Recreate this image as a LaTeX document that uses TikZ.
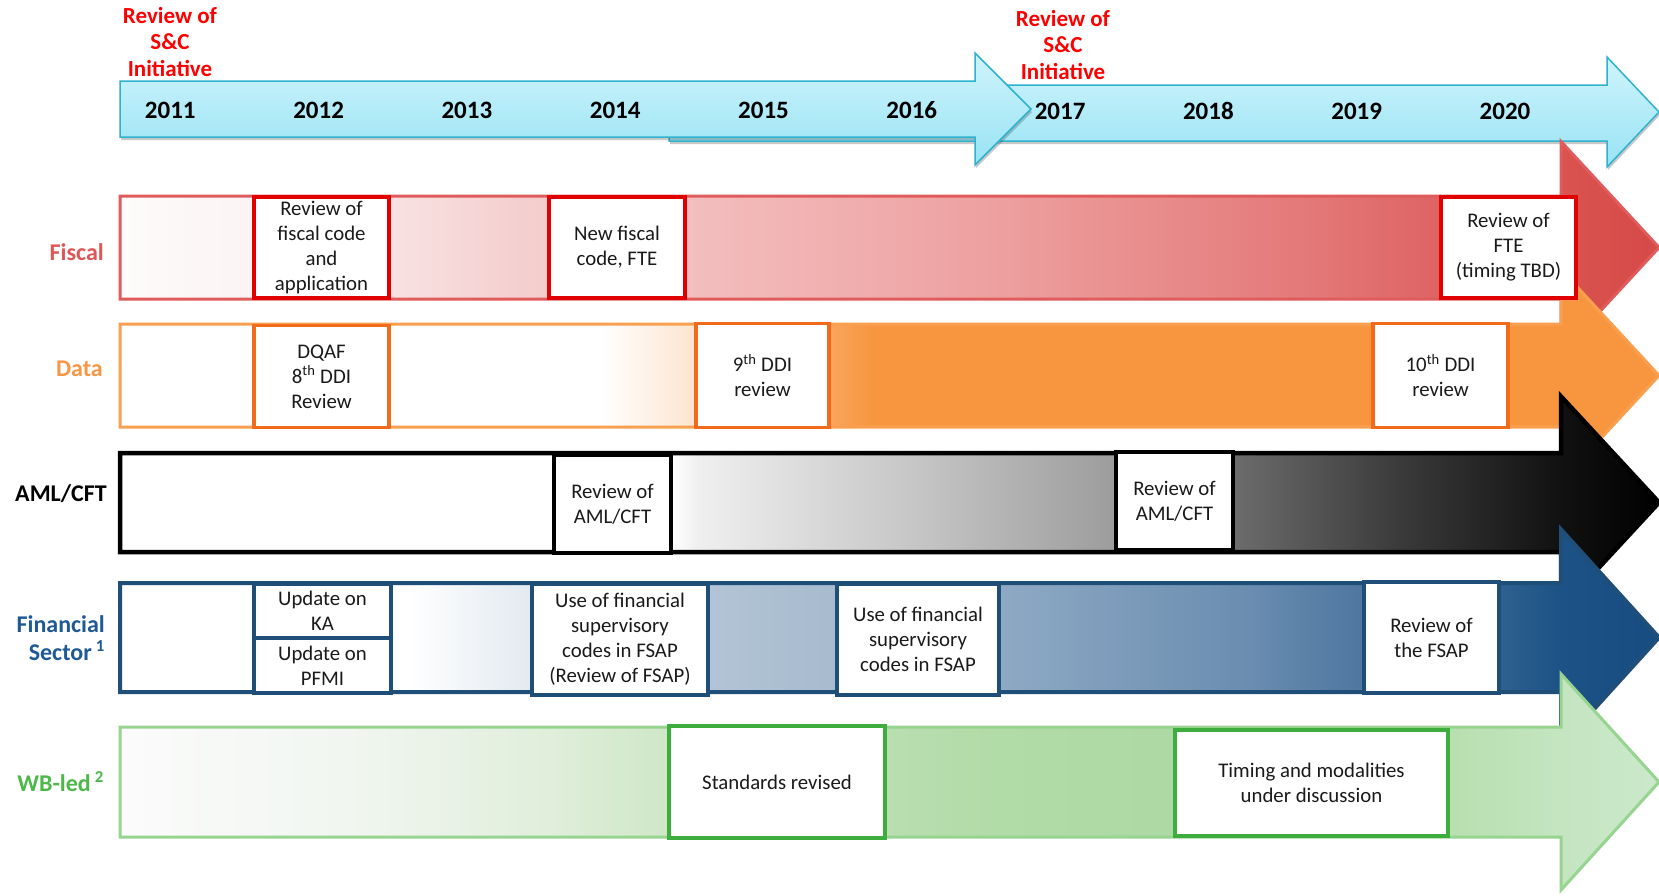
\documentclass[tikz,border=0pt]{standalone}
\usepackage{fontspec}
\setmainfont{Carlito}
\usetikzlibrary{shadows}
% colours
\definecolor{tlTop}{HTML}{CFF4FC}
\definecolor{tlBot}{HTML}{98E3F4}
\definecolor{tlBorder}{HTML}{2EB2CE}
\definecolor{labRed}{HTML}{E05555}
\definecolor{labOrange}{HTML}{F79646}
\definecolor{labBlue}{HTML}{1F5A96}
\definecolor{labGreen}{HTML}{4CB848}
\definecolor{topRed}{HTML}{FF0000}
\definecolor{boxRed}{HTML}{E00000}
\definecolor{boxOrange}{HTML}{F26B1D}
\definecolor{boxBlue}{HTML}{1F4E79}
\definecolor{boxGreen}{HTML}{3DAE3D}
\definecolor{fBorder}{HTML}{E05B5B}
\definecolor{dBorder}{HTML}{F9A050}
\definecolor{nBorder}{HTML}{1F4E79}
\definecolor{wBorder}{HTML}{96D490}
\definecolor{txt}{HTML}{1A1A1A}
% fiscal stops
\definecolor{fA}{HTML}{FDFBFB}
\definecolor{fB}{HTML}{FCF4F4}
\definecolor{fC}{HTML}{F8E0E0}
\definecolor{fD}{HTML}{F5CFCF}
\definecolor{fE}{HTML}{F3BDBD}
\definecolor{fF}{HTML}{ED9F9F}
\definecolor{fG}{HTML}{E47A7A}
\definecolor{fH}{HTML}{DD6262}
\definecolor{fI}{HTML}{D9534F}
\definecolor{fJ}{HTML}{D64A48}
% data stops
\definecolor{dC}{HTML}{FDE6D2}
\definecolor{dD}{HTML}{FBC493}
\definecolor{dE}{HTML}{F9A55C}
\definecolor{dF}{HTML}{F89640}
% aml stops
\definecolor{aC}{HTML}{EFEFEF}
\definecolor{aD}{HTML}{C9C9C9}
\definecolor{aE}{HTML}{9C9C9C}
\definecolor{aF}{HTML}{6C6C6C}
\definecolor{aG}{HTML}{3A3A3A}
\definecolor{aH}{HTML}{111111}
% financial stops
\definecolor{nC}{HTML}{E2E9F0}
\definecolor{nD}{HTML}{C3D1DE}
\definecolor{nE}{HTML}{B2C4D5}
\definecolor{nF}{HTML}{A7BBCF}
\definecolor{nG}{HTML}{8EA9C4}
\definecolor{nH}{HTML}{6A8DB0}
\definecolor{nI}{HTML}{4E76A0}
\definecolor{nJ}{HTML}{2F6190}
\definecolor{nK}{HTML}{1C5286}
\definecolor{nL}{HTML}{164C80}
% wb stops
\definecolor{wA}{HTML}{FBFBFB}
\definecolor{wB}{HTML}{F1F6F0}
\definecolor{wC}{HTML}{E0EEDB}
\definecolor{wD}{HTML}{CFE7C7}
\definecolor{wE}{HTML}{B9DEB0}
\definecolor{wF}{HTML}{B1DBA7}
\definecolor{wG}{HTML}{ADD9A4}
\definecolor{wH}{HTML}{B8DFB0}
\definecolor{wI}{HTML}{C4E5C0}
\definecolor{wJ}{HTML}{CBE9CB}
% shadings (25bp = left end x=120, 75bp = right end x=1659)
\pgfdeclarehorizontalshading{fiscalsh}{100bp}{color(0bp)=(fA); color(25bp)=(fA); color(29.2bp)=(fB); color(34.1bp)=(fC); color(38bp)=(fD); color(43.8bp)=(fE); color(53.6bp)=(fF); color(63.3bp)=(fG); color(68.2bp)=(fH); color(71.8bp)=(fI); color(75bp)=(fJ); color(100bp)=(fJ)}
\pgfdeclarehorizontalshading{datash}{100bp}{color(0bp)=(white); color(25bp)=(white); color(40.6bp)=(white); color(43.5bp)=(dC); color(45.8bp)=(dD); color(48.1bp)=(dE); color(49.4bp)=(dF); color(75bp)=(dF); color(100bp)=(dF)}
\pgfdeclarehorizontalshading{amlsh}{100bp}{color(0bp)=(white); color(25bp)=(white); color(42.9bp)=(white); color(43.8bp)=(aC); color(50.3bp)=(aD); color(57.4bp)=(aE); color(61.2bp)=(aF); color(66.6bp)=(aG); color(71.8bp)=(aH); color(75bp)=(black); color(100bp)=(black)}
\pgfdeclarehorizontalshading{finsh}{100bp}{color(0bp)=(white); color(25bp)=(white); color(34.4bp)=(white); color(38.4bp)=(nC); color(41.3bp)=(nD); color(44.1bp)=(nE); color(48.3bp)=(nF); color(53.6bp)=(nG); color(61.7bp)=(nH); color(65.4bp)=(nI); color(69.8bp)=(nJ); color(71.8bp)=(nK); color(75bp)=(nL); color(100bp)=(nL)}
\pgfdeclarehorizontalshading{wbsh}{100bp}{color(0bp)=(wA); color(25bp)=(wA); color(32.5bp)=(wB); color(39bp)=(wC); color(42.8bp)=(wD); color(49.9bp)=(wE); color(53.6bp)=(wF); color(59.3bp)=(wG); color(68.2bp)=(wH); color(71.8bp)=(wI); color(75bp)=(wJ); color(100bp)=(wJ)}
\begin{document}
\begin{tikzpicture}[x=1pt,y=-1pt,
  tlarrow/.style={draw=tlBorder, line width=1.5pt, top color=tlTop, bottom color=tlBot,
    drop shadow={shadow xshift=1pt, shadow yshift=-3pt, opacity=.3, fill=black!70}},
  yr/.style={font=\bfseries\fontsize{25}{28}\selectfont, inner sep=0pt, text=black},
  toplab/.style={font=\bfseries\fontsize{23}{26.5}\selectfont, text=topRed, align=center, inner sep=0pt},
  rowlab/.style={anchor=east, font=\bfseries\fontsize{24}{28}\selectfont, align=right, inner sep=0pt},
  evbox/.style={draw=#1, fill=white, line width=3.5pt, inner sep=0pt, align=center,
    font=\fontsize{20.8}{25}\selectfont, text=txt}]
\useasboundingbox (0,0) rectangle (1659,895);
\fill[white] (0,0) rectangle (1659,895);

% ---------- timeline ----------
\path[tlarrow] (669,85) -- (1607,85) -- (1607,57) -- (1659,112) -- (1607,167) -- (1607,141) -- (669,141) -- cycle;
\path[tlarrow] (120,81) -- (975,81) -- (975,53) -- (1031,109) -- (975,165) -- (975,137) -- (120,137) -- cycle;

\node[yr] (y2011) at (170.3,110) {2011};
\node[yr] (y2012) at (318.6,110) {2012};
\node[yr] (y2013) at (466.9,110) {2013};
\node[yr] (y2014) at (615.2,110) {2014};
\node[yr] (y2015) at (763.5,110) {2015};
\node[yr] (y2016) at (911.8,110) {2016};
\node[yr] (y2017) at (1060.1,111) {2017};
\node[yr] (y2018) at (1208.4,111) {2018};
\node[yr] (y2019) at (1356.7,111) {2019};
\node[yr] (y2020) at (1505,111) {2020};

\node[toplab] (sc1) at (170,42) {Review of\\S\&C\\Initiative};
\node[toplab] (sc2) at (1063,45) {Review of\\S\&C\\Initiative};

% ---------- row arrows ----------
\path[shade, shading=fiscalsh, draw=fBorder, line width=3pt]
  (120,196) -- (1561,196) -- (1561,141.5) -- (1659,247.5) -- (1561,353.5) -- (1561,299) -- (120,299) -- cycle;
\path[shade, shading=datash, draw=dBorder, line width=3pt]
  (120,324) -- (1561,324) -- (1561,269.5) -- (1659,375.5) -- (1561,481.5) -- (1561,427) -- (120,427) -- cycle;
\path[shade, shading=amlsh, draw=black, line width=4.5pt]
  (120,453) -- (1561,453) -- (1561,396.5) -- (1659,502.5) -- (1561,608.5) -- (1561,552) -- (120,552) -- cycle;
\path[shade, shading=finsh, draw=nBorder, line width=4pt]
  (120,583) -- (1561,583) -- (1561,529.5) -- (1659,637.5) -- (1561,745.5) -- (1561,692) -- (120,692) -- cycle;
\path[shade, shading=wbsh, draw=wBorder, line width=3pt]
  (120,727) -- (1561,727) -- (1561,674) -- (1659,782) -- (1561,890) -- (1561,837) -- (120,837) -- cycle;

% ---------- row labels ----------
\node[rowlab, text=labRed] (lfis) at (104,252) {Fiscal};
\node[rowlab, text=labOrange] (ldat) at (103,369) {Data};
\node[rowlab, text=black] (laml) at (107,494) {AML/CFT};
\node[rowlab, text=labBlue] (lfin) at (105,638) {Financial\\Sector\,\textsuperscript{1}};
\node[rowlab, text=labGreen] (lwb) at (104,782) {WB-led\,\textsuperscript{2}};

% ---------- fiscal events ----------
\node[evbox=boxRed, minimum width=135pt, minimum height=101pt] (f1) at (321.5,247.5) {Review of\\fiscal code\\and\\application};
\node[evbox=boxRed, minimum width=136pt, minimum height=101pt] (f2) at (617,247.5) {New fiscal\\code, FTE};
\node[evbox=boxRed, minimum width=135pt, minimum height=101pt] (f3) at (1508.5,247.5) {Review of\\FTE\\(timing TBD)};

% ---------- data events ----------
\node[evbox=boxOrange, minimum width=135pt, minimum height=102pt] (d1) at (321.5,376.5) {DQAF\\8\textsuperscript{th} DDI\\Review};
\node[evbox=boxOrange, minimum width=133pt, minimum height=104pt] (d2) at (762.5,375.5) {9\textsuperscript{th} DDI\\review};
\node[evbox=boxOrange, minimum width=135pt, minimum height=104pt] (d3) at (1440.5,375.5) {10\textsuperscript{th} DDI\\review};

% ---------- AML events ----------
\node[evbox=black, line width=4pt, minimum width=117pt, minimum height=98pt] (a1) at (612.5,504) {Review of\\AML/CFT};
\node[evbox=black, line width=4pt, minimum width=117pt, minimum height=98pt] (a2) at (1174.5,501) {Review of\\AML/CFT};

% ---------- financial events ----------
\node[evbox=boxBlue, minimum width=137pt, minimum height=54pt] (k1) at (322.5,611) {Update on\\KA};
\node[evbox=boxBlue, minimum width=137pt, minimum height=55pt] (p1) at (322.5,665.5) {Update on\\PFMI};
\node[evbox=boxBlue, minimum width=176pt, minimum height=111pt] (u1) at (620,639.5) {Use of financial\\supervisory\\codes in FSAP\\(Review of FSAP)};
\node[evbox=boxBlue, minimum width=162pt, minimum height=111pt] (u2) at (918,639.5) {Use of financial\\supervisory\\codes in FSAP};
\node[evbox=boxBlue, minimum width=135pt, minimum height=111pt] (r1) at (1431.5,637.5) {Review of\\the FSAP};

% ---------- WB events ----------
\node[evbox=boxGreen, minimum width=216pt, minimum height=112pt] (s1) at (777,782) {Standards revised};
\node[evbox=boxGreen, minimum width=273pt, minimum height=106pt] (t1) at (1311.5,783) {Timing and modalities\\under discussion};
\end{tikzpicture}
\end{document}
